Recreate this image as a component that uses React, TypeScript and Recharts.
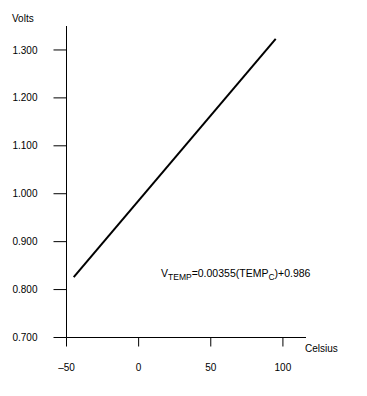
import React from "react";
import { LineChart, Line, XAxis, YAxis } from "recharts";

// line from -45 °C to 95 °C
const temps = [-45, 95];
const volts = [0.826, 1.323];

const xTicks = [-50, 0, 50, 100];
const yTicks = [0.7, 0.8, 0.9, 1.0, 1.1, 1.2, 1.3];

const data = temps.map((t, i) => ({ temp: t, v: volts[i] }));

const fmtX = (v: number) => (v < 0 ? "\u2013" + Math.abs(v) : String(v));
const fmtY = (v: number) => v.toFixed(3);

const tickStyle = { fontSize: 10, fill: "#000" };

export default function App() {
  return (
    <div
      style={{
        position: "absolute",
        left: 0,
        top: 0,
        width: 367,
        height: 396,
        background: "#fff",
        fontFamily: "'Liberation Sans', Arial, sans-serif",
        color: "#000",
      }}
    >
      <LineChart
        width={367}
        height={396}
        data={data}
        margin={{ top: 26, right: 61, bottom: 28.5, left: 0 }}
      >
        <XAxis
          type="number"
          dataKey="temp"
          domain={[-50, 116]}
          ticks={xTicks}
          interval={0}
          tickFormatter={fmtX}
          height={30}
          tickSize={9}
          tickMargin={17}
          stroke="#000"
          tick={tickStyle}
          tickLine={{ stroke: "#000" }}
        />
        <YAxis
          type="number"
          domain={[0.7, 1.35]}
          ticks={yTicks}
          interval={0}
          tickFormatter={fmtY}
          width={66.5}
          tickSize={13}
          tickMargin={16}
          stroke="#000"
          tick={tickStyle}
          tickLine={{ stroke: "#000" }}
        />
        <Line
          type="linear"
          dataKey="v"
          stroke="#000"
          strokeWidth={2}
          dot={false}
          isAnimationActive={false}
        />
      </LineChart>

      <div style={{ position: "absolute", left: 12, top: 13, fontSize: 10, lineHeight: "12px" }}>
        Volts
      </div>
      <div style={{ position: "absolute", left: 305, top: 343, fontSize: 10, lineHeight: "12px" }}>
        Celsius
      </div>
      <div
        style={{
          position: "absolute",
          left: 161,
          top: 267,
          fontSize: 10.5,
          lineHeight: "12px",
          whiteSpace: "nowrap",
        }}
      >
        V
        <span style={{ fontSize: 8.5, position: "relative", top: 3 }}>TEMP</span>
        =0.00355(TEMP
        <span style={{ fontSize: 8.5, position: "relative", top: 3 }}>C</span>
        )+0.986
      </div>
    </div>
  );
}
